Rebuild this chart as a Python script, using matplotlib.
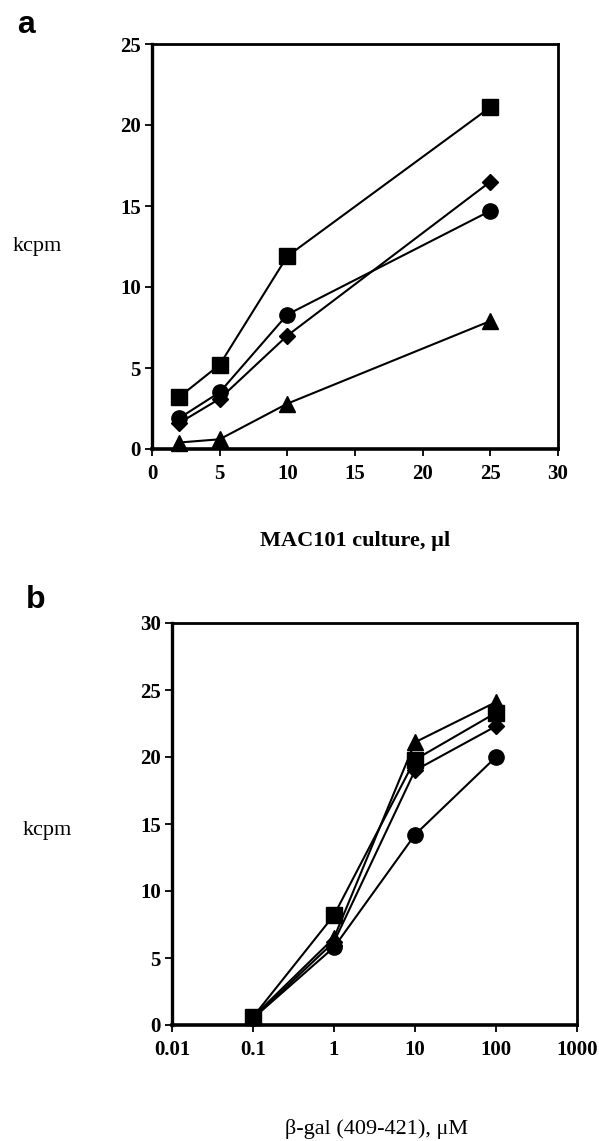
import matplotlib
matplotlib.use("Agg")
import matplotlib.pyplot as plt
from matplotlib.ticker import NullLocator, FixedLocator, FixedFormatter

# Panel a data
a_x = [2, 5, 10, 25]
a_square = [3.2, 5.2, 11.9, 21.1]
a_diamond = [1.6, 3.1, 7.0, 16.5]
a_circle = [1.9, 3.5, 8.3, 14.7]
a_triangle = [0.4, 0.6, 2.8, 7.9]
a_xticks = [0, 5, 10, 15, 20, 25, 30]
a_yticks = [0, 5, 10, 15, 20, 25]

# Panel b data
b_x = [0.1, 1, 10, 100]
b_triangle = [0.6, 6.5, 21.1, 24.1]
b_square = [0.6, 8.2, 19.8, 23.3]
b_diamond = [0.5, 6.2, 19.0, 22.3]
b_circle = [0.5, 5.8, 14.2, 20.0]
b_xticks = [0.01, 0.1, 1, 10, 100, 1000]
b_xticklabels = ["0.01", "0.1", "1", "10", "100", "1000"]
b_yticks = [0, 5, 10, 15, 20, 25, 30]

W, H = 599, 1141
fig = plt.figure(figsize=(W / 100, H / 100), dpi=100)
serif = ["Liberation Serif", "DejaVu Serif"]
plt.rcParams["font.family"] = serif


def box(l, t, r, b):
    return [l / W, 1 - b / H, (r - l) / W, (b - t) / H]


def style(ax):
    for s in ax.spines.values():
        s.set_linewidth(2.0)
        s.set_color("black")
    ax.spines["left"].set_linewidth(2.4)
    ax.spines["bottom"].set_linewidth(2.6)
    ax.tick_params(axis="both", which="major", direction="out", length=5,
                   width=1.3, labelsize=15, pad=3, color="black")
    ax.tick_params(axis="x", pad=6)
    ax.tick_params(top=False, right=False)
    for lab in ax.get_xticklabels() + ax.get_yticklabels():
        lab.set_fontweight("bold")


lw = 1.5
ms = dict(s=11, o=11, D=8.5, t=11)

# Panel a
ax1 = fig.add_axes(box(152, 44, 558, 449))
ax1.plot(a_x, a_square, "-s", color="black", lw=lw, ms=ms["s"], clip_on=False, zorder=3)
ax1.plot(a_x, a_diamond, "-D", color="black", lw=lw, ms=ms["D"], clip_on=False, zorder=3)
ax1.plot(a_x, a_circle, "-o", color="black", lw=lw, ms=ms["o"], clip_on=False, zorder=3)
ax1.plot(a_x, a_triangle, "-^", color="black", lw=lw, ms=ms["t"], clip_on=False, zorder=3)
ax1.set_xlim(0, 30)
ax1.set_ylim(0, 25)
ax1.set_xticks(a_xticks)
ax1.set_yticks(a_yticks)
style(ax1)

# Panel b
ax2 = fig.add_axes(box(172, 623, 577, 1025))
ax2.plot(b_x, b_circle, "-o", color="black", lw=lw, ms=ms["o"], clip_on=False, zorder=3)
ax2.plot(b_x, b_diamond, "-D", color="black", lw=lw, ms=ms["D"], clip_on=False, zorder=3)
ax2.plot(b_x, b_square, "-s", color="black", lw=lw, ms=ms["s"], clip_on=False, zorder=3)
ax2.plot(b_x, b_triangle, "-^", color="black", lw=lw, ms=ms["t"], clip_on=False, zorder=3)
ax2.set_xscale("log")
ax2.set_xlim(0.01, 1000)
ax2.set_ylim(0, 30)
ax2.xaxis.set_major_locator(FixedLocator(b_xticks))
ax2.xaxis.set_major_formatter(FixedFormatter(b_xticklabels))
ax2.xaxis.set_minor_locator(NullLocator())
ax2.set_yticks(b_yticks)
style(ax2)

# Panel letters and axis labels
fig.text(26 / W, 1 - 25 / H, "a", fontsize=23, fontweight="bold",
         family=["Liberation Sans", "DejaVu Sans"], ha="center", va="center")
fig.text(36 / W, 1 - 600 / H, "b", fontsize=23, fontweight="bold",
         family=["Liberation Sans", "DejaVu Sans"], ha="center", va="center")
fig.text(37 / W, 1 - 247 / H, "kcpm", fontsize=16, ha="center", va="center")
fig.text(47 / W, 1 - 830 / H, "kcpm", fontsize=16, ha="center", va="center")
fig.text(355 / W, 1 - 541 / H, "MAC101 culture, \u00b5l", fontsize=16,
         fontweight="bold", ha="center", va="center")
fig.text(377 / W, 1 - 1129 / H, "\u03b2-gal (409-421), \u03bcM", fontsize=16,
         ha="center", va="center")

fig.savefig("out.png", dpi=100)
